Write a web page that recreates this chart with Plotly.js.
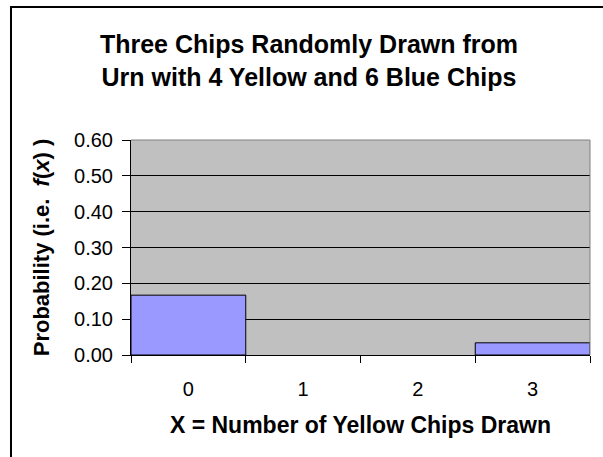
<!DOCTYPE html>
<html>
<head>
<meta charset="utf-8">
<script src="https://cdn.plot.ly/plotly-3.0.1.min.js"></script>
<style>
  html, body { margin: 0; padding: 0; background: #ffffff; overflow: hidden; }
  #wrap { position: relative; width: 603px; height: 457px; }
  #chart { position: absolute; left: 0; top: 0; width: 603px; height: 457px; }
  #frame {
    position: absolute; left: 10px; top: 6px; width: 700px; height: 600px;
    border-left: 2px solid #000000; border-top: 2px solid #000000;
    pointer-events: none;
  }
</style>
</head>
<body>
<div id="wrap">
  <div id="chart"></div>
  <div id="frame"></div>
</div>
<script>
// Data
const categories = ["0", "1", "2", "3"];
const probabilities = [0.167, null, null, 0.034];
const yTickValues = [0, 0.1, 0.2, 0.3, 0.4, 0.5, 0.6];

const chartTitle = "Three Chips Randomly Drawn from<br>Urn with 4 Yellow and 6 Blue Chips";
const xTitle = "X = Number of Yellow Chips Drawn";
const yTitle = "Probability (i.e.  <i>f</i>(<i>x</i>) )";

const FONT = "Liberation Sans, Arial, Helvetica, sans-serif";

const trace = {
  type: "bar",
  x: categories,
  y: probabilities,
  marker: { color: "#9999FF", line: { color: "#000000", width: 1 } },
  hoverinfo: "x+y"
};

const layout = {
  width: 603,
  height: 457,
  margin: { l: 131, r: 13, t: 140, b: 102, pad: 0 },
  paper_bgcolor: "#ffffff",
  plot_bgcolor: "#C0C0C0",
  bargap: 0,
  showlegend: false,
  font: { family: FONT, color: "#000000", size: 20 },
  title: {
    text: "<b>" + chartTitle + "</b>",
    font: { family: FONT, size: 25, color: "#000000" },
    xref: "container", x: 0.5124, xanchor: "center",
    yref: "container", y: 0.883, yanchor: "top"
  },
  xaxis: {
    type: "category",
    range: [-0.5, 3.5],
    tickson: "boundaries",
    ticks: "outside", ticklen: 7, tickcolor: "#000000", tickwidth: 1,
    showline: true, linecolor: "#000000", linewidth: 1,
    showgrid: false, zeroline: false,
    tickfont: { family: FONT, size: 20, color: "#000000" },
    ticklabelstandoff: 16,
    title: {
      text: "<b>" + xTitle + "</b>",
      font: { family: FONT, size: 23, color: "#000000" },
      standoff: 17
    },
    fixedrange: true
  },
  yaxis: {
    range: [0, 0.6],
    tickvals: yTickValues,
    tickformat: ".2f",
    ticks: "outside", ticklen: 8, tickcolor: "#000000", tickwidth: 1,
    showline: true, linecolor: "#000000", linewidth: 1,
    showgrid: true, gridcolor: "#000000", gridwidth: 1,
    zeroline: false,
    tickfont: { family: FONT, size: 20, color: "#000000" },
    ticklabelstandoff: 5,
    title: {
      text: "<b>" + yTitle + "</b>",
      font: { family: FONT, size: 22, color: "#000000" },
      standoff: 18
    },
    fixedrange: true
  },
  shapes: [
    // plot-area top and right edges (grey)
    { type: "line", xref: "paper", yref: "paper", x0: 0, x1: 1, y0: 1, y1: 1,
      line: { color: "#808080", width: 1 }, layer: "above" },
    { type: "line", xref: "paper", yref: "paper", x0: 1, x1: 1, y0: 0, y1: 1,
      line: { color: "#808080", width: 1 }, layer: "above" }
  ]
};

Plotly.newPlot("chart", [trace], layout, { displayModeBar: false, staticPlot: true });
</script>
</body>
</html>
